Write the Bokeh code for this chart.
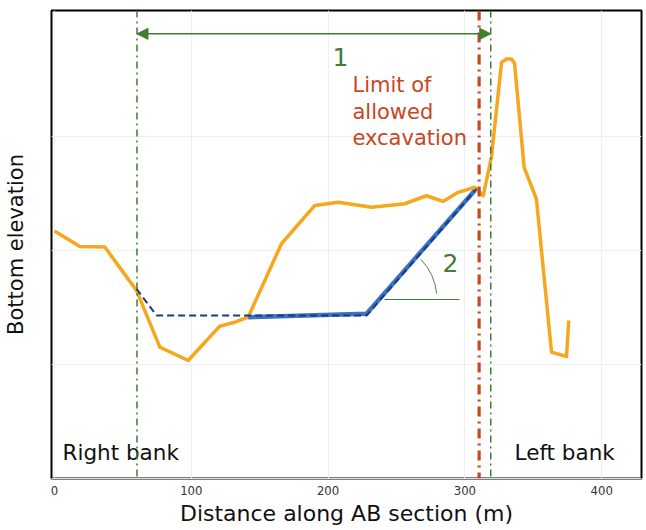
from bokeh.plotting import figure
from bokeh.models import Range1d, FixedTicker, Arrow, NormalHead, Span
from bokeh.core.properties import value
from bokeh.embed import file_html
from bokeh.resources import INLINE
import math

# --- data ---
profile_x = [0, 18.5, 36.8, 59.9, 77.0, 97.7, 120.8, 131.8, 141.6, 165.9, 190.3, 207.4,
             231.7, 256.1, 271.9, 284.1, 295.1, 307.2, 313.4, 319.4, 326.8, 330.4, 334.1,
             336.3, 343.3, 352.3, 363.3, 374.3, 375.9]
profile_y = [2.17, 2.035, 2.03, 1.65, 1.152, 1.035, 1.336, 1.371, 1.415, 2.059, 2.395, 2.424,
             2.38, 2.41, 2.48, 2.43, 2.51, 2.555, 2.48, 2.82, 3.65, 3.68, 3.68,
             3.64, 2.73, 2.45, 1.108, 1.07, 1.386]
excav_x = [141.6, 228.1, 307.2]
excav_y = [1.415, 1.445, 2.526]
design_x = [59.9, 74.6, 228.1, 308.5]
design_y = [1.664, 1.43, 1.43, 2.54]
bank_x = [60.3, 318.9]
limit_x = 310.4
arrow_y = 3.9
angle_base_x = [241.2, 296.0]
angle_y = 1.57
angle_center_x = 237.2
angle_deg = [5.7, 43.8]
x_ticks = [0, 100, 200, 300, 400]
y_grid = [1, 2, 3]

FONT = "DejaVu Sans"
GREEN = "#3f7d32"
RED = "#c9461e"

p = figure(frame_width=590, frame_height=468, width=646, height=530,
           output_backend="svg", toolbar_location=None,
           x_range=Range1d(-2.19, 429.1), y_range=Range1d(0, 4.105),
           min_border_left=50, min_border_right=6, min_border_top=10, min_border_bottom=52)
p.background_fill_color = "white"
p.border_fill_color = "white"
p.outline_line_color = "black"
p.outline_line_width = 2

# axes
p.xaxis.ticker = FixedTicker(ticks=x_ticks)
p.xaxis.major_tick_line_color = None
p.xaxis.minor_tick_line_color = None
p.xaxis.axis_line_color = "#dddddd"
p.xaxis.major_label_text_font = "DejaVu Sans Condensed"
p.xaxis.major_label_text_font_size = "13px"
p.xaxis.major_label_text_color = "#333333"
p.xaxis.major_label_standoff = 1
p.xaxis.axis_label = "Distance along AB section (m)"
p.xaxis.axis_label_text_font = FONT
p.xaxis.axis_label_text_font_style = "normal"
p.xaxis.axis_label_text_font_size = "22px"
p.xaxis.axis_label_text_color = "#111111"
p.xaxis.axis_label_standoff = 3

p.yaxis.ticker = FixedTicker(ticks=[])
p.yaxis.major_tick_line_color = None
p.yaxis.minor_tick_line_color = None
p.yaxis.axis_line_color = None
p.yaxis.axis_label = "Bottom elevation"
p.yaxis.axis_label_text_font = FONT
p.yaxis.axis_label_text_font_style = "normal"
p.yaxis.axis_label_text_font_size = "21px"
p.yaxis.axis_label_text_color = "#111111"
p.yaxis.axis_label_standoff = 24

p.xgrid.grid_line_color = "#efefef"
p.ygrid.ticker = FixedTicker(ticks=y_grid)
p.ygrid.grid_line_color = "#efefef"

# bank / limit lines
for bx in bank_x:
    p.add_layout(Span(location=bx, dimension="height", line_color=GREEN,
                      line_width=1.5, line_dash="7 4 2 4"))
p.add_layout(Span(location=limit_x, dimension="height", line_color=RED,
                  line_width=3.2, line_dash="10 5 2 5"))

# profile and excavation
p.line(profile_x, profile_y, line_color="#f6a71d", line_width=3.5, line_join="round")
p.line(excav_x, excav_y, line_color="#3b72c6", line_width=4.5)
p.line(design_x, design_y, line_color="#1c3a7c", line_width=2, line_dash="7 4")

# arrow
p.add_layout(Arrow(x_start=bank_x[0], y_start=arrow_y, x_end=bank_x[1], y_end=arrow_y,
                   line_color=GREEN, line_width=1.5,
                   start=NormalHead(size=11, fill_color=GREEN, line_color=GREEN),
                   end=NormalHead(size=11, fill_color=GREEN, line_color=GREEN)))

# angle marker
p.line(angle_base_x, [angle_y, angle_y], line_color=GREEN, line_width=1)
p.arc(x=[angle_center_x], y=[angle_y], radius=58, radius_units="screen",
      start_angle=math.radians(angle_deg[0]), end_angle=math.radians(angle_deg[1]),
      line_color="#5a7d50", line_width=1)

# texts
p.text(x=[209.1], y=[3.70], text=["1"], text_font=value(FONT), text_font_size="25px",
       text_color=GREEN, text_align="center", text_baseline="middle")
p.text(x=[217.8], y=[3.56], text=["Limit of\nallowed\nexcavation"], text_font=value(FONT),
       text_font_size="21px", text_color=RED, text_align="left", text_baseline="top",
       text_line_height=1.12)
p.text(x=[289.5], y=[1.886], text=["2"], text_font=value(FONT), text_font_size="25px",
       text_color=GREEN, text_align="center", text_baseline="middle")
p.text(x=[5.85], y=[0.228], text=["Right bank"], text_font=value(FONT), text_font_size="21.5px",
       text_color="#111111", text_align="left", text_baseline="middle")
p.text(x=[336.3], y=[0.228], text=["Left bank"], text_font=value(FONT), text_font_size="21.5px",
       text_color="#111111", text_align="left", text_baseline="middle")

open("out.html", "w").write(file_html(p, INLINE))
